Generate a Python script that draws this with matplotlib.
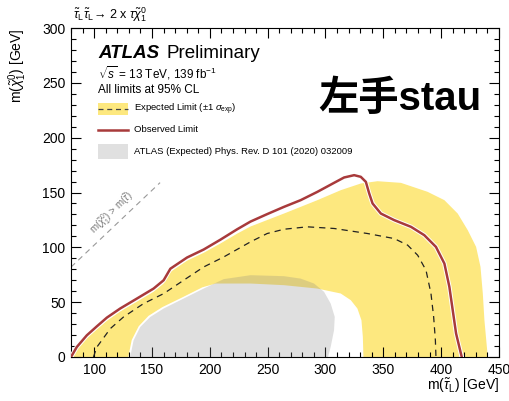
import numpy as np
import matplotlib
matplotlib.use('Agg')
import matplotlib.pyplot as plt
from matplotlib.patches import Rectangle
from matplotlib.lines import Line2D
import matplotlib.patheffects as pe
from matplotlib.ticker import MultipleLocator

plt.rcParams['font.family'] = ['Liberation Sans', 'Noto Sans CJK SC', 'DejaVu Sans']
plt.rcParams['mathtext.fontset'] = 'custom'
plt.rcParams['mathtext.rm'] = 'Liberation Sans'
plt.rcParams['mathtext.it'] = 'Liberation Sans:italic'
plt.rcParams['mathtext.bf'] = 'Liberation Sans:bold'

# observed limit (red)
obs_x = [80, 85.0, 93.7, 102.4, 111, 122.5, 137, 151.4, 160.1, 165.9, 180.3, 194.7, 209.2,
         223.7, 235.2, 249.6, 264.1, 278.5, 293, 307.4, 316.1, 324.8, 330.5, 334.9, 337.8,
         340.7, 347.9, 359.4, 373.9, 385.4, 395.5, 402.8, 407.1, 410, 412.9, 417.8]
obs_y = [0, 9.1, 19.8, 28, 35.9, 44.2, 53.3, 62.4, 70, 80.5, 90.7, 98, 107,
         116.5, 123.5, 130.3, 136.9, 143, 150.6, 158.8, 163.7, 165.8, 164.3, 159.7, 149.1,
         140, 130.8, 124.8, 118.7, 111.1, 100.4, 85.2, 63.9, 42.6, 21.4, 0]

# expected limit (dashed)
exp_x = [99.4, 102.4, 114, 125.4, 142.7, 160.1, 177.4, 194.7, 212, 235.2, 249.6, 264.1,
         284.3, 307.4, 336.3, 359.4, 371, 379.7, 386.9, 391.2, 393.5, 395, 395.5]
exp_y = [0, 9.1, 25.9, 36.5, 48.7, 57.8, 70, 82.1, 91.2, 105, 112.6, 116.5,
         118.7, 117.2, 112.6, 108, 102, 92.8, 79.1, 57.8, 36.6, 15.3, 0]

# +-1 sigma band, outer edge
band_up_x = [80, 85, 93.7, 102.4, 111, 122.5, 137, 151.4, 160.1, 165.9, 180.3, 194.7, 209.2,
             223.7, 235.2, 264.1, 293, 313.2, 330.5, 345, 365.2, 388.3, 402.8, 414.3, 423,
             430.2, 434, 436, 437.4, 440.3]
band_up_y = [0, 6.5, 17, 25.3, 33, 41.5, 50.5, 59.5, 67, 77.5, 87.8, 95, 103.5,
             112.5, 119, 130.8, 143, 152.1, 158.2, 160.3, 158.8, 150.6, 143, 130.8, 115.6,
             100.4, 82.2, 57.9, 33.5, 0]
# +-1 sigma band, inner edge
band_lo_x = [80, 129.5, 132.5, 138.5, 147, 159, 176.5, 193.5, 205, 235.2, 264.1, 293,
             313.2, 321.9, 327.6, 331.1, 332.3, 332.8]
band_lo_y = [0, 0, 15.5, 28, 37.5, 45.5, 54.5, 63.5, 67, 67, 65.5, 62.4,
             57.9, 51.8, 44.2, 33.5, 18.3, 0]

# previous ATLAS expected exclusion (grey)
prev_x = [131.2, 134.1, 139.9, 148.5, 160.1, 177.4, 194.7, 212, 235.2, 264.1, 278.5,
          290.1, 298.8, 304.5, 308, 307.4, 304.5, 302.2]
prev_y = [0, 15.2, 27.4, 36.5, 44.2, 53.3, 62.4, 71, 74.6, 73.7, 71.5,
          67, 59.4, 48.7, 36.6, 24.4, 9.2, 0]

W, H = 509, 401
fig = plt.figure(figsize=(W / 100, H / 100), dpi=100)
ax = fig.add_axes([71 / W, 1 - 357 / H, 428 / W, 329 / H])

yellow = '#fde87f'
red = '#a83a3b'

bx = np.concatenate([band_up_x, band_lo_x[::-1]])
by = np.concatenate([band_up_y, band_lo_y[::-1]])
ax.fill(bx, by, color=yellow, lw=0, zorder=1)
ax.fill(prev_x, prev_y, facecolor=(0.5, 0.5, 0.5, 0.25), edgecolor='none', zorder=2)
ax.plot(exp_x, exp_y, color='#222222', lw=0.9, ls=(0, (5, 4)), zorder=3)
ax.plot(obs_x, obs_y, color=red, lw=1.8, zorder=4, solid_joinstyle='round',
        path_effects=[pe.Stroke(linewidth=3.2, foreground='white'), pe.Normal()])

# kinematic limit
kin = np.array([80, 157])
ax.plot(kin, kin + 2, color='#999999', lw=0.8, ls=(0, (5, 4)), zorder=1)
ax.text(115.5, 131.5, r'm($\tilde{\chi}_1^0$) > m($\tilde{\tau}$)', rotation=44,
        color='#777777', fontsize=7, ha='center', va='center')

ax.set_xlim(80, 450)
ax.set_ylim(0, 300)
ax.xaxis.set_major_locator(MultipleLocator(50))
ax.xaxis.set_minor_locator(MultipleLocator(10))
ax.yaxis.set_major_locator(MultipleLocator(50))
ax.yaxis.set_minor_locator(MultipleLocator(10))
ax.tick_params(which='both', direction='in', top=True, right=True, width=0.8)
ax.tick_params(which='major', length=7, labelsize=10, pad=4)
ax.tick_params(which='minor', length=3.5)
for s in ax.spines.values():
    s.set_linewidth(0.8)

ax.set_xlabel(r'm($\tilde{\tau}_{\rm L}$) [GeV]', fontsize=10, loc='right')
ax.set_ylabel(r'm($\tilde{\chi}_1^0$) [GeV]', fontsize=10, loc='top')
ax.xaxis.set_label_coords(1.0, -0.06)
ax.yaxis.set_label_coords(-0.097, 1.0)


def fx(px):
    return px / W


def fy(py):
    return 1 - py / H


fig.text(fx(73), fy(15), r'$\tilde{\tau}_{\rm L}\tilde{\tau}_{\rm L}$→ 2 x $\tau\tilde{\chi}_1^0$',
         fontsize=9, va='center')
fig.text(fx(98), fy(58), 'ATLAS', fontsize=13.5, fontweight='bold', fontstyle='italic')
fig.text(fx(166), fy(58), 'Preliminary', fontsize=13.5)
fig.text(fx(98), fy(78), r'$\sqrt{s}$ = 13 TeV, 139 fb$^{-1}$', fontsize=8.5)
fig.text(fx(98), fy(93), 'All limits at 95% CL', fontsize=8.5)

# legend
fig.patches.append(Rectangle((fx(98), fy(115)), (128 - 98) / W, 12 / H,
                             transform=fig.transFigure, color=yellow, lw=0))
fig.lines.append(Line2D([fx(98), fx(128)], [fy(109), fy(109)], transform=fig.transFigure,
                        color='#444444', lw=0.9, ls=(0, (4, 3))))
fig.lines.append(Line2D([fx(98), fx(128)], [fy(130), fy(130)], transform=fig.transFigure,
                        color=red, lw=1.8))
fig.patches.append(Rectangle((fx(98), fy(159)), (128 - 98) / W, 15 / H,
                             transform=fig.transFigure, color='#e0e0e0', lw=0))
fig.text(fx(134), fy(109), r'Expected Limit ($\pm$1 $\sigma_{\rm exp}$)', fontsize=6.8, va='center')
fig.text(fx(134), fy(130), 'Observed Limit', fontsize=6.8, va='center')
fig.text(fx(134), fy(152), 'ATLAS (Expected) Phys. Rev. D 101 (2020) 032009', fontsize=6.8, va='center')

fig.text(fx(400), fy(99), '左手stau', fontsize=29, fontweight='bold', ha='center', va='center')

fig.savefig('out.png', dpi=100)
